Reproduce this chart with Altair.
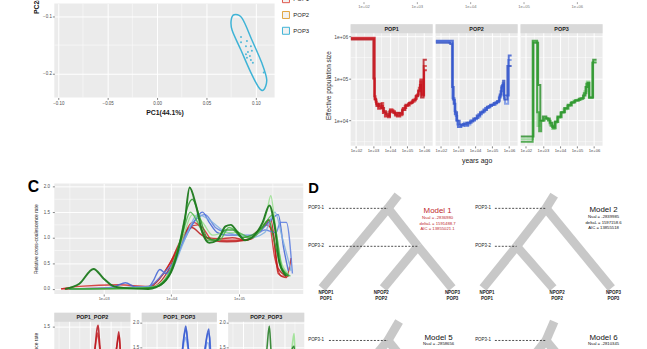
import altair as alt
import pandas as pd

FONT = "Liberation Sans"
PANEL_BG = "#ebebeb"
STRIP_BG = "#d9d9d9"
LABEL_C = "#4d4d4d"
TITLE_C = "#1a1a1a"
LOG_LABEL = "'1e+0' + datum.value"

# ---------------- Panel A : PCA ----------------
pca_groups = ["POP1", "POP2", "POP3"]
pca_colors = ["#e0574c", "#e2a43e", "#3eb3d6"]
pop3_pc1 = [0.085, 0.091, 0.085, 0.090, 0.095, 0.096, 0.092, 0.090, 0.094, 0.091, 0.095, 0.097, 0.108]
pop3_pc2 = [-0.136, -0.143, -0.145, -0.152, -0.152, -0.160, -0.162, -0.166, -0.169, -0.172, -0.176, -0.181, -0.198]
ellipse_pc1 = [0.078, 0.086, 0.096, 0.106, 0.111, 0.108, 0.103, 0.095, 0.085, 0.076, 0.075]
ellipse_pc2 = [-0.097, -0.103, -0.141, -0.181, -0.210, -0.228, -0.224, -0.198, -0.159, -0.124, -0.107]
pca_x_ticks = [-0.10, -0.05, 0.00, 0.05, 0.10]
pca_x_minor = [-0.075, -0.025, 0.025, 0.075]
pca_y_ticks = [-0.2, -0.1]
pca_y_minor = [-0.15]
pca_x_domain = [-0.104, 0.119]
pca_y_domain = [-0.2414, -0.0776]

# ---------------- Panel B : PSMC-like Ne (log10 years, log10 Ne) ----------------
b_pops = ["POP1", "POP2", "POP3"]
b_x_domain = [1.69, 6.5]
b_y_domain = [3.4, 6.29]
b_plot_top = 6.08
b_x_ticks = [2, 3, 4, 5, 6]
b_x_minor = [2.5, 3.5, 4.5, 5.5]
b_y_ticks = [4, 5, 6]
b_y_minor = [3.5, 4.5, 5.5]
top_strip_ticks = [2, 3, 4, 5, 6]
top_strip_domain = [1.759, 7.315]

pop1_run1 = [(1.69, 5.95), (3.07, 4.58), (3.15, 4.45), (3.22, 4.38), (3.37, 4.31), (3.51, 4.42), (3.60, 4.23),
             (3.76, 4.16), (3.90, 4.11), (3.99, 4.27), (4.14, 4.23), (4.28, 4.15), (4.42, 4.19), (4.57, 4.13),
             (4.72, 4.27), (4.86, 4.35), (5.05, 4.40), (5.25, 4.45), (5.44, 4.52), (5.58, 4.62), (5.69, 4.78),
             (5.77, 4.93), (5.85, 4.62), (5.98, 5.30), (6.16, 5.30)]
pop1_run2 = [(1.69, 5.93), (3.02, 5.00), (3.10, 4.50), (3.20, 4.35), (3.35, 4.40), (3.50, 4.30), (3.65, 4.20),
             (3.80, 4.12), (3.95, 4.22), (4.10, 4.20), (4.30, 4.12), (4.50, 4.18), (4.70, 4.25), (4.90, 4.38),
             (5.10, 4.42), (5.30, 4.48), (5.50, 4.58), (5.65, 4.72), (5.75, 4.85), (5.82, 4.55), (5.97, 5.45),
             (6.16, 5.45)]
pop1_run3 = [(1.69, 5.97), (3.10, 4.52), (3.18, 4.40), (3.30, 4.28), (3.45, 4.35), (3.58, 4.18), (3.70, 4.10),
             (3.88, 4.08), (4.00, 4.25), (4.20, 4.18), (4.40, 4.10), (4.60, 4.15), (4.75, 4.30), (4.95, 4.36),
             (5.15, 4.43), (5.35, 4.50), (5.52, 4.60), (5.66, 4.70), (5.78, 4.98), (5.88, 4.60), (6.00, 5.20),
             (6.16, 5.20)]
pop2_run1 = [(1.69, 5.88), (2.50, 5.85), (2.68, 4.54), (2.80, 4.23), (2.87, 4.11), (2.96, 3.91), (3.16, 3.87),
             (3.35, 3.95), (3.54, 3.91), (3.73, 4.01), (3.92, 4.03), (4.12, 4.09), (4.31, 4.19), (4.50, 4.27),
             (4.70, 4.31), (4.89, 4.37), (5.08, 4.40), (5.28, 4.45), (5.43, 4.58), (5.53, 4.78), (5.62, 4.89),
             (5.70, 4.54), (5.76, 4.40), (5.95, 5.44), (6.15, 5.44)]
pop2_run2 = [(1.69, 5.85), (2.55, 5.82), (2.66, 4.80), (2.75, 4.40), (2.85, 4.20), (2.95, 4.00), (3.10, 3.90),
             (3.30, 3.92), (3.50, 3.95), (3.70, 3.98), (3.90, 4.05), (4.10, 4.12), (4.30, 4.20), (4.50, 4.25),
             (4.70, 4.33), (4.90, 4.38), (5.10, 4.42), (5.30, 4.47), (5.45, 4.62), (5.55, 4.82), (5.65, 4.95),
             (5.72, 4.50), (5.90, 5.30), (6.15, 5.30)]
pop2_run3 = [(1.69, 5.90), (2.45, 5.90), (2.70, 4.50), (2.82, 4.15), (2.90, 4.00), (3.00, 3.85), (3.20, 3.90),
             (3.40, 3.88), (3.60, 3.95), (3.80, 4.00), (4.00, 4.06), (4.20, 4.15), (4.40, 4.22), (4.60, 4.30),
             (4.80, 4.35), (5.00, 4.38), (5.20, 4.44), (5.40, 4.55), (5.50, 4.70), (5.60, 4.85), (5.68, 4.60),
             (5.98, 5.55), (6.15, 5.55)]
pop3_run1 = [(1.69, 3.56), (2.42, 5.88), (2.68, 3.87), (2.81, 3.99), (3.06, 4.07), (3.25, 4.03), (3.39, 3.91),
             (3.54, 3.80), (3.69, 3.95), (3.83, 4.07), (4.02, 4.19), (4.21, 4.27), (4.41, 4.35), (4.60, 4.42),
             (4.79, 4.48), (4.99, 4.50), (5.28, 4.54), (5.43, 4.70), (5.57, 4.93), (5.71, 4.54), (5.92, 5.40),
             (6.15, 5.40)]
pop3_run2 = [(1.69, 3.62), (2.45, 5.85), (2.72, 4.85), (2.85, 4.00), (3.00, 4.10), (3.20, 4.05), (3.40, 3.95),
             (3.55, 3.85), (3.70, 3.98), (3.85, 4.10), (4.05, 4.20), (4.25, 4.30), (4.45, 4.38), (4.65, 4.43),
             (4.85, 4.47), (5.10, 4.52), (5.35, 4.60), (5.50, 4.80), (5.62, 4.90), (5.73, 4.55), (5.95, 5.45),
             (6.15, 5.45)]
pop3_run3 = [(1.69, 3.50), (2.40, 5.90), (2.66, 4.20), (2.78, 3.75), (2.90, 4.00), (3.10, 4.05), (3.30, 4.00),
             (3.45, 3.88), (3.60, 3.82), (3.75, 3.97), (3.90, 4.08), (4.10, 4.20), (4.30, 4.28), (4.50, 4.36),
             (4.70, 4.44), (4.90, 4.49), (5.20, 4.53), (5.40, 4.65), (5.55, 4.88), (5.70, 4.55), (5.90, 5.38),
             (6.15, 5.38)]
pop1_colors = ["#d23a3a", "#b8141c", "#c8141e"]
pop2_colors = ["#6f8ee6", "#2f4fc0", "#3558d0"]
pop3_colors = ["#8fd68f", "#238b23", "#2f9a2f"]

# ---------------- Panel C : relative cross-coalescence (log10 years, rate) ----------------
c_x_domain = [2.27, 5.95]
c_y_domain = [-0.1, 2.06]
c_x_ticks = [3, 4, 5]
c_x_minor = [2.5, 3.5, 4.5, 5.5]
c_y_ticks = [0.0, 0.5, 1.0, 1.5, 2.0]
c_y_minor = [0.25, 0.75, 1.25, 1.75]

red_run1 = [(2.37, 0.0), (2.64, 0.05), (3.22, 0.08), (3.66, 0.05), (3.88, 0.3), (4.02, 0.6), (4.17, 1.0),
            (4.31, 1.3), (4.46, 1.2), (4.61, 0.95), (4.80, 0.95), (4.97, 0.95), (5.19, 0.98), (5.34, 1.2),
            (5.44, 1.3), (5.53, 0.6), (5.63, 0.25), (5.73, 0.25)]
red_run2 = [(2.37, 0.0), (3.66, 0.02), (3.83, 0.2), (3.98, 0.5), (4.12, 0.9), (4.27, 1.2), (4.39, 1.25),
            (4.53, 1.0), (4.71, 0.98), (4.90, 1.0), (5.12, 0.95), (5.29, 1.1), (5.41, 1.25), (5.50, 1.1),
            (5.58, 0.3), (5.70, 0.22), (5.77, 0.6)]
red_run3 = [(2.42, 0.0), (3.73, 0.05), (3.95, 0.35), (4.12, 0.85), (4.30, 1.2), (4.45, 1.05), (4.61, 0.95),
            (4.82, 0.92), (5.09, 0.95), (5.29, 1.15), (5.47, 1.35), (5.58, 0.4), (5.70, 0.25)]
blue_run1 = [(2.49, 0.0), (3.00, 0.01), (3.19, 0.06), (3.32, 0.12), (3.47, 0.04), (3.66, 0.03), (3.73, 0.15),
             (3.83, 0.38), (3.92, 0.3), (4.02, 0.45), (4.17, 0.9), (4.31, 1.25), (4.46, 1.5), (4.56, 1.3),
             (4.68, 1.1), (4.82, 1.05), (4.97, 1.05), (5.15, 1.0), (5.29, 1.1), (5.44, 1.3), (5.58, 1.45),
             (5.66, 0.8), (5.73, 0.35)]
blue_run2 = [(2.49, 0.0), (3.66, 0.05), (3.88, 0.3), (4.07, 0.6), (4.21, 1.05), (4.36, 1.35), (4.50, 1.45),
             (4.65, 1.2), (4.82, 1.1), (5.04, 1.05), (5.23, 1.05), (5.38, 1.15), (5.55, 1.1), (5.61, 1.3),
             (5.70, 1.3), (5.79, 0.3)]
lightblue_run = [(2.49, 0.0), (3.80, 0.05), (4.02, 0.4), (4.21, 1.0), (4.39, 1.45), (4.56, 1.35), (4.75, 1.15),
                 (4.97, 1.05), (5.19, 1.0), (5.38, 1.1), (5.53, 1.5), (5.64, 1.0), (5.77, 0.35)]
lightgreen_run = [(2.49, 0.0), (3.66, 0.02), (3.95, 0.25), (4.17, 1.0), (4.31, 1.45), (4.46, 1.3), (4.61, 1.05),
                  (4.80, 1.1), (4.97, 1.1), (5.12, 1.0), (5.29, 1.1), (5.41, 1.5), (5.47, 1.82), (5.53, 1.3),
                  (5.63, 0.5), (5.73, 0.3)]
green_run1 = [(2.49, 0.0), (3.73, 0.03), (3.98, 0.35), (4.17, 1.1), (4.28, 1.5), (4.39, 1.3), (4.53, 0.95),
              (4.71, 0.95), (4.85, 1.2), (5.00, 1.1), (5.19, 1.0), (5.35, 1.2), (5.50, 1.45), (5.55, 1.1),
              (5.64, 0.4), (5.76, 0.25)]
green_run2 = [(2.49, 0.0), (3.36, 0.0), (3.80, 0.05), (3.98, 0.3), (4.12, 0.9), (4.24, 1.6), (4.31, 1.75),
              (4.42, 1.4), (4.53, 1.0), (4.65, 0.95), (4.80, 1.15), (4.91, 1.15), (5.04, 1.0), (5.19, 1.05),
              (5.34, 1.2), (5.44, 1.35), (5.51, 1.0), (5.63, 0.4), (5.74, 0.25)]
darkgreen_run = [(2.43, 0.0), (2.64, 0.10), (2.85, 0.39), (3.00, 0.20), (3.15, 0.05), (3.29, 0.02), (3.66, 0.0),
                 (3.88, 0.12), (4.02, 0.40), (4.12, 0.85), (4.20, 1.35), (4.27, 1.98), (4.36, 1.65), (4.46, 1.10),
                 (4.56, 0.90), (4.68, 0.95), (4.80, 1.22), (4.88, 1.25), (4.97, 1.12), (5.09, 0.95), (5.23, 1.05),
                 (5.35, 1.30), (5.45, 1.63), (5.53, 1.20), (5.60, 0.50), (5.70, 0.25)]

# small pairwise panels
pair_names = ["POP1_POP2", "POP1_POP3", "POP2_POP3"]
pair_y_domains = [[0.0, 1.719], [0.0, 2.2], [0.0, 2.2]]
pair_plot_tops = [1.578, 2.02, 2.02]
pair_y_ticks = [[0.0, 0.5, 1.0, 1.5], [0.0, 0.5, 1.0, 1.5, 2.0], [0.0, 0.5, 1.0, 1.5, 2.0]]
pair12_run1 = [(2.4, 0.0), (3.6, 0.02), (3.9, 0.2), (4.1, 0.7), (4.25, 1.2), (4.33, 1.45), (4.39, 1.52),
               (4.45, 1.3), (4.55, 0.95), (4.8, 0.85), (5.1, 0.9), (5.3, 1.2), (5.39, 1.42), (5.48, 1.0),
               (5.6, 0.3), (5.75, 0.25)]
pair12_run2 = [(2.4, 0.0), (3.6, 0.03), (3.95, 0.3), (4.15, 0.9), (4.3, 1.3), (4.37, 1.4), (4.45, 1.2),
               (4.6, 0.9), (4.9, 0.88), (5.2, 1.0), (5.35, 1.3), (5.42, 1.35), (5.5, 0.8), (5.65, 0.25)]
pair13_run1 = [(2.4, 0.0), (3.6, 0.05), (3.95, 0.4), (4.2, 1.2), (4.35, 1.75), (4.43, 1.93), (4.52, 1.6),
               (4.7, 1.1), (5.0, 1.0), (5.3, 1.3), (5.5, 1.8), (5.56, 1.87), (5.65, 1.2), (5.8, 0.3)]
pair13_run2 = [(2.4, 0.0), (3.6, 0.04), (4.0, 0.5), (4.25, 1.4), (4.38, 1.8), (4.46, 1.85), (4.55, 1.5),
               (4.75, 1.05), (5.05, 1.02), (5.35, 1.4), (5.52, 1.78), (5.6, 1.7), (5.7, 0.9), (5.8, 0.3)]
pair13_run3 = [(2.4, 0.0), (3.7, 0.06), (4.05, 0.6), (4.3, 1.5), (4.42, 1.7), (4.5, 1.55), (4.7, 1.2),
               (5.0, 1.05), (5.3, 1.25), (5.5, 1.6), (5.58, 1.5), (5.7, 0.6)]
pair23_run1 = [(2.4, 0.0), (3.6, 0.03), (3.95, 0.5), (4.15, 1.5), (4.26, 1.93), (4.35, 1.4), (4.55, 1.0),
               (4.9, 1.0), (5.2, 1.2), (5.4, 1.5), (5.46, 1.52), (5.55, 0.9), (5.7, 0.3)]
pair23_run2 = [(2.4, 0.0), (3.7, 0.04), (4.0, 0.4), (4.2, 1.1), (4.3, 1.3), (4.45, 1.1), (4.7, 0.95),
               (5.0, 1.0), (5.3, 1.3), (5.42, 1.7), (5.46, 1.78), (5.52, 1.2), (5.7, 0.3)]

# ---------------- Panel D : model trees (layout units, time units) ----------------
d_x_domain = [0, 340]
d_t_domain = [-0.793, 1.313]
tree_branches = [
    (84.7, 1.0, 95.0, 1.165), (84.7, 1.0, 18.0, 0.0), (84.7, 1.0, 115.0, 0.524),
    (115.0, 0.524, 149.7, 0.0), (115.0, 0.524, 80.0, 0.0),
    (244.7, 1.0, 253.0, 1.165), (244.7, 1.0, 311.0, 0.0), (244.7, 1.0, 215.0, 0.524),
    (215.0, 0.524, 181.0, 0.0), (215.0, 0.524, 252.0, 0.0),
    (84.7, -0.657, 96.0, -0.42), (84.7, -0.657, 18.0, -1.657), (84.7, -0.657, 149.7, -1.657),
    (244.7, -0.657, 253.0, -0.42), (244.7, -0.657, 181.0, -1.657), (244.7, -0.657, 311.0, -1.657),
]
tree_dashes = [(25, 84.7, 1.0), (25, 115.0, 0.524), (193, 244.7, 1.0), (193, 215.0, 0.524),
               (25, 84.7, -0.657), (193, 244.7, -0.657)]
node_labels = ["POP3-1", "POP3-2", "POP3-1", "POP3-2", "POP3-1", "POP3-1"]
node_label_x = [4, 4, 173, 173, 4, 173]
node_label_t = [1.0, 0.524, 1.0, 0.524, -0.657, -0.657]
leaf_labels_top = ["NPOP1", "NPOP2", "NPOP3", "NPOP1", "NPOP2", "NPOP3"]
leaf_labels_bottom = ["POP1", "POP2", "POP3", "POP1", "POP2", "POP3"]
leaf_label_x = [22, 78, 150, 185, 256, 313]
leaf_top_t = -0.062
leaf_bottom_t = -0.136
model_titles = ["Model 1", "Model 2", "Model 5", "Model 6"]
model_title_x = [135, 303, 136, 303]
model_title_t = [0.968, 0.978, -0.622, -0.622]
model_title_color = ["#c0282d", "#111111", "#111111", "#111111"]
model_stats = ["Nsal = -2836980", "deltaL = 1591488.7", "AIC = 13855021.1",
               "Nsal = -2839985", "deltaL = 1597158.6", "AIC = 13855518",
               "Nsal = -2858656", "Nsal = -2810345"]
model_stats_x = [135, 135, 135, 303, 303, 303, 136, 303]
model_stats_t = [0.874, 0.805, 0.735, 0.892, 0.818, 0.75, -0.706, -0.706]
model_stats_color = ["#c0282d"] * 3 + ["#111111"] * 5


# ---------------- helpers ----------------
def axis(values, title=None, fmt=None, label_expr=None, labels=True, ticks=True, **kw):
    d = dict(values=values, domain=False, grid=True, gridColor="white", gridWidth=1,
             ticks=ticks, tickColor="#333333", tickSize=2, tickWidth=0.6,
             labels=labels, labelColor=LABEL_C, labelFontSize=5, labelPadding=1, labelFont=FONT,
             title=title, titleColor=TITLE_C, titleFont=FONT, titleFontSize=7, titleFontWeight="normal")
    if fmt:
        d["format"] = fmt
    if label_expr:
        d["labelExpr"] = label_expr
    d.update(kw)
    return alt.Axis(**d)


def vrules(vals, xs, xax):
    return alt.Chart(pd.DataFrame({"x": vals})).mark_rule(color="white", strokeWidth=0.5).encode(
        x=alt.X("x:Q", scale=xs, axis=xax))


def hrules(vals, ys, yax):
    return alt.Chart(pd.DataFrame({"y": vals})).mark_rule(color="white", strokeWidth=0.5).encode(
        y=alt.Y("y:Q", scale=ys, axis=yax))


def strip(label, xdom, ylo, yhi, xs, ys, xax, yax):
    df = pd.DataFrame({"x": [xdom[0]], "x2": [xdom[1]], "y": [ylo], "y2": [yhi],
                       "xm": [(xdom[0] + xdom[1]) / 2], "ym": [(ylo + yhi) / 2], "label": [label]})
    rect = alt.Chart(df).mark_rect(color=STRIP_BG).encode(
        x=alt.X("x:Q", scale=xs, axis=xax), x2="x2:Q", y=alt.Y("y:Q", scale=ys, axis=yax), y2="y2:Q")
    text = alt.Chart(df).mark_text(font=FONT, fontSize=5.5, fontWeight="bold", color=TITLE_C).encode(
        x=alt.X("xm:Q", scale=xs, axis=xax), y=alt.Y("ym:Q", scale=ys, axis=yax), text="label:N")
    return [rect, text]


def line(pairs, color, xs, ys, xax, yax, width=1.3, opacity=0.85, interp="monotone"):
    df = pd.DataFrame({"x": [p[0] for p in pairs], "y": [p[1] for p in pairs], "k": list(range(len(pairs)))})
    return alt.Chart(df).mark_line(color=color, strokeWidth=width, opacity=opacity, interpolate=interp,
                                   clip=True).encode(
        x=alt.X("x:Q", scale=xs, axis=xax), y=alt.Y("y:Q", scale=ys, axis=yax), order="k:Q")


def panel_view():
    return alt.ViewBackground(fill=PANEL_BG, strokeWidth=0)


# ---------------- A ----------------
pxs = alt.Scale(domain=pca_x_domain, nice=False, zero=False)
pys = alt.Scale(domain=pca_y_domain, nice=False, zero=False)
pxax = axis(pca_x_ticks, title="PC1(44.1%)", fmt=".2f", titleFontWeight="bold", titlePadding=4, labelFontSize=4.5)
pyax = axis(pca_y_ticks, title="PC2(21.7%)", fmt=".1f", titleFontWeight="bold", titleAlign="left",
            titleY=10, titlePadding=3, labelFontSize=4.5)
ell_df = pd.DataFrame({"pc1": ellipse_pc1, "pc2": ellipse_pc2, "group": "POP3",
                       "k": list(range(len(ellipse_pc1)))})
pts_df = pd.DataFrame({"pc1": pop3_pc1, "pc2": pop3_pc2})
ellipse = alt.Chart(ell_df).mark_line(interpolate="cardinal-closed", strokeWidth=1.5).encode(
    x=alt.X("pc1:Q", scale=pxs, axis=pxax), y=alt.Y("pc2:Q", scale=pys, axis=pyax), order="k:Q",
    color=alt.Color("group:N", scale=alt.Scale(domain=pca_groups, range=pca_colors),
                    legend=alt.Legend(orient="none", legendX=230, legendY=-9, title=None, symbolType="square",
                                      symbolSize=50, symbolStrokeWidth=1, symbolFillColor="#f2f2f2",
                                      labelFontSize=6, labelFont=FONT, labelColor=TITLE_C, rowPadding=3,
                                      padding=0, labelOffset=3)))
points = alt.Chart(pts_df).mark_circle(size=4, color=pca_colors[2], opacity=0.9).encode(
    x=alt.X("pc1:Q", scale=pxs, axis=pxax), y=alt.Y("pc2:Q", scale=pys, axis=pyax))
pca = alt.layer(vrules(pca_x_minor, pxs, pxax), hrules(pca_y_minor, pys, pyax), ellipse, points).properties(
    width=223, height=95, view=panel_view())

# ---------------- B ----------------
def b_panel(label, runs, colors, first, middle):
    xs = alt.Scale(domain=b_x_domain, nice=False, zero=False)
    ys = alt.Scale(domain=b_y_domain, nice=False, zero=False)
    xax = axis(b_x_ticks, title="years ago" if middle else None, label_expr=LOG_LABEL, labelFontSize=4.2,
               titlePadding=4)
    yax = axis(b_y_ticks, title="Effective population size" if first else None, label_expr=LOG_LABEL,
               labels=first, ticks=first, titleFontSize=6.5, titlePadding=2)
    layers = [vrules(b_x_minor, xs, xax), hrules(b_y_minor, ys, yax)]
    layers += strip(label, b_x_domain, b_plot_top, b_y_domain[1], xs, ys, xax, yax)
    for r, c in zip(runs, colors):
        layers.append(line(r, c, xs, ys, xax, yax, width=2.0, opacity=0.8, interp="step-after"))
    return alt.layer(*layers).properties(width=83, height=123, view=panel_view())


bp1 = b_panel(b_pops[0], [pop1_run1, pop1_run2, pop1_run3], pop1_colors, True, False)
bp2 = b_panel(b_pops[1], [pop2_run1, pop2_run2, pop2_run3], pop2_colors, False, True)
bp3 = b_panel(b_pops[2], [pop3_run1, pop3_run2, pop3_run3], pop3_colors, False, False)

top_ticks = alt.Chart(pd.DataFrame({"x": top_strip_ticks})).mark_point(opacity=0).encode(
    x=alt.X("x:Q", scale=alt.Scale(domain=top_strip_domain, nice=False, zero=False),
            axis=alt.Axis(values=top_strip_ticks, labelExpr=LOG_LABEL, grid=False, domain=False,
                          tickSize=2, tickColor="#666666", tickWidth=0.6, labelFontSize=4.2,
                          labelColor="#777777", labelPadding=1, title=None, offset=-3))
).properties(width=300, height=1)

bpanels = alt.hconcat(bp1, bp2, bp3, spacing=3, bounds="flush")
bcol = alt.vconcat(top_ticks, bpanels, spacing=14)

# ---------------- C ----------------
cxs = alt.Scale(domain=c_x_domain, nice=False, zero=False)
cys = alt.Scale(domain=c_y_domain, nice=False, zero=False)
cxax = axis(c_x_ticks, label_expr=LOG_LABEL, labelFontSize=4)
cyax = axis(c_y_ticks, title="Relative cross-coalescence rate", fmt=".1f", labelFontSize=4.5,
            labelPadding=3, titleFontSize=5, titlePadding=5)
c_series = [(red_run1, "#d42a2a"), (red_run2, "#c41e1e"), (red_run3, "#b81818"),
            (blue_run1, "#3f63d6"), (blue_run2, "#5a7de0"), (lightblue_run, "#7fb0e0"),
            (lightgreen_run, "#98e08e"), (green_run1, "#4cb84c"), (green_run2, "#2e9a2e")]
c_layers = [vrules(c_x_minor, cxs, cxax), hrules(c_y_minor, cys, cyax)]
for s, col in c_series:
    c_layers.append(line(s, col, cxs, cys, cxax, cyax, width=1.4, opacity=0.85))
c_layers.append(line(darkgreen_run, "#1e7a1e", cxs, cys, cxax, cyax, width=2.0, opacity=0.95))
cmain = alt.layer(*c_layers).properties(width=252, height=112, view=panel_view())


def pair_panel(i, runs, colors, width):
    xs = alt.Scale(domain=c_x_domain, nice=False, zero=False)
    ys = alt.Scale(domain=pair_y_domains[i], nice=False, zero=False)
    xax = axis(c_x_ticks, label_expr=LOG_LABEL, labelFontSize=4)
    yax = axis(pair_y_ticks[i], fmt=".1f", labelFontSize=4.5, labelPadding=3 if i == 0 else 1,
               title="Relative cross-coalescence rate" if i == 0 else None, titleFontSize=5, titlePadding=5)
    layers = [vrules(c_x_minor, xs, xax)]
    layers += strip(pair_names[i], c_x_domain, pair_plot_tops[i], pair_y_domains[i][1], xs, ys, xax, yax)
    for r, c in zip(runs, colors):
        layers.append(line(r, c, xs, ys, xax, yax, width=1.6, opacity=0.85))
    return alt.layer(*layers).properties(width=width, height=110, view=panel_view())


s1 = pair_panel(0, [pair12_run2, pair12_run1], ["#d23a3a", "#b8141c"], 77)
s2 = pair_panel(1, [pair13_run3, pair13_run2, pair13_run1], ["#8fb0ec", "#5a7de0", "#3558d0"], 76)
s3 = pair_panel(2, [pair23_run2, pair23_run1], ["#98e08e", "#1e7a1e"], 77)
csmall = alt.hconcat(s1, s2, s3, spacing=11.5, bounds="flush")

ccol = alt.vconcat(cmain, csmall, spacing=11)

# ---------------- D ----------------
dxs = alt.Scale(domain=d_x_domain, nice=False, zero=False)
dys = alt.Scale(domain=d_t_domain, nice=False, zero=False)
br_df = pd.DataFrame(tree_branches, columns=["x1", "t1", "x2", "t2"])
branches = alt.Chart(br_df).mark_rule(color="#c8c8c8", strokeWidth=9, strokeCap="butt", clip=True).encode(
    x=alt.X("x1:Q", scale=dxs, axis=None), y=alt.Y("t1:Q", scale=dys, axis=None), x2="x2:Q", y2="t2:Q")
dash_df = pd.DataFrame(tree_dashes, columns=["xa", "xb", "t"])
dashes = alt.Chart(dash_df).mark_rule(color="#222222", strokeWidth=0.8, strokeDash=[2, 1.5]).encode(
    x=alt.X("xa:Q", scale=dxs, axis=None), x2="xb:Q", y=alt.Y("t:Q", scale=dys, axis=None))
nl_df = pd.DataFrame({"x": node_label_x, "t": node_label_t, "label": node_labels})
node_text = alt.Chart(nl_df).mark_text(align="left", baseline="middle", fontSize=4.5, color="#222222").encode(
    x=alt.X("x:Q", scale=dxs, axis=None), y=alt.Y("t:Q", scale=dys, axis=None), text="label:N")
lf_df = pd.DataFrame({"x": leaf_label_x * 2, "t": [leaf_top_t] * 6 + [leaf_bottom_t] * 6,
                      "label": leaf_labels_top + leaf_labels_bottom})
leaf_text = alt.Chart(lf_df).mark_text(baseline="middle", fontSize=4.5, fontWeight="bold", color="#222222").encode(
    x=alt.X("x:Q", scale=dxs, axis=None), y=alt.Y("t:Q", scale=dys, axis=None), text="label:N")
mt_df = pd.DataFrame({"x": model_title_x, "t": model_title_t, "label": model_titles, "col": model_title_color})
model_text = alt.Chart(mt_df).mark_text(baseline="middle", fontSize=8).encode(
    x=alt.X("x:Q", scale=dxs, axis=None), y=alt.Y("t:Q", scale=dys, axis=None), text="label:N",
    color=alt.Color("col:N", scale=None))
ms_df = pd.DataFrame({"x": model_stats_x, "t": model_stats_t, "label": model_stats, "col": model_stats_color})
stats_text = alt.Chart(ms_df).mark_text(baseline="middle", fontSize=4.3).encode(
    x=alt.X("x:Q", scale=dxs, axis=None), y=alt.Y("t:Q", scale=dys, axis=None), text="label:N",
    color=alt.Color("col:N", scale=None))
dchart = alt.layer(branches, dashes, node_text, leaf_text, model_text, stats_text).properties(
    width=340, height=170,
    title=alt.TitleParams("D", anchor="start", fontSize=15, fontWeight="bold", font=FONT, color="#000000",
                          dx=4, dy=13, offset=0))

# ---------------- assemble ----------------
row1 = alt.hconcat(pca, bcol, spacing=50)
row2 = alt.hconcat(ccol, dchart, spacing=0)
chart = alt.vconcat(
    row1, row2, spacing=17,
    padding={"left": 28, "top": -28, "right": 0, "bottom": 0},
    title=alt.TitleParams("C", anchor="start", frame="bounds", fontSize=16, fontWeight="bold", font=FONT,
                          color="#000000", dx=-5, dy=222, offset=0),
).configure(font=FONT).configure_view(strokeWidth=0)

chart.save("out.html", embed_options={"renderer": "svg", "actions": False})
